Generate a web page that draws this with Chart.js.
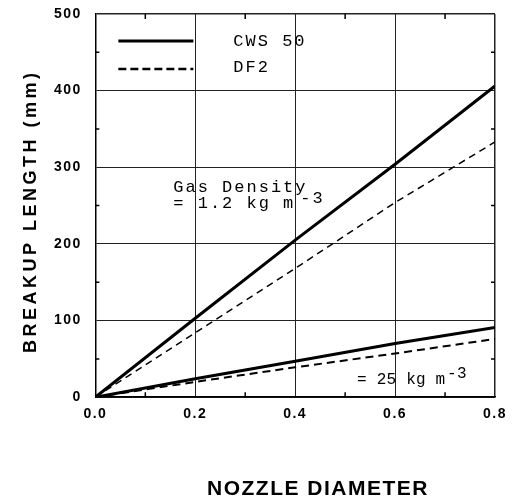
<!DOCTYPE html>
<html>
<head>
<meta charset="utf-8">
<script src="https://cdn.jsdelivr.net/npm/chart.js@4.4.0/dist/chart.umd.min.js"></script>
<style>
	html, body { margin: 0; padding: 0; background: #fff; }
</style>
</head>
<body>
<canvas id="myChart" width="517" height="499"></canvas>
<script>
// nozzle diameter (x) and breakup length in mm (y)
var nozzleDiameter = [0, 0.2, 0.4, 0.6, 0.8];
var cwsLowDensity = [0, 103, 205, 304, 406];   // gas density 1.2 kg m-3
var df2LowDensity = [0, 84, 168, 254, 333];
var cwsHighDensity = [0, 24, 47, 70, 91];      // gas density 25 kg m-3
var df2HighDensity = [0, 20, 39, 57, 76];

var xTicks = [0, 0.2, 0.4, 0.6, 0.8];
var yTicks = [0, 100, 200, 300, 400, 500];
var xMinorTicks = [0.1, 0.3, 0.5, 0.7];
var yMinorTicks = [50, 150, 250, 350, 450];

var legendLabels = ['CWS 50', 'DF2'];
var xTitle = 'NOZZLE DIAMETER';
var yTitle = 'BREAKUP LENGTH (mm)';

function pts(ys) {
	return nozzleDiameter.map(function (x, i) { return { x: x, y: ys[i] } });
}

var mono = '"Liberation Mono", "DejaVu Sans Mono", monospace';
var sans = '"Liberation Sans", Arial, sans-serif';

var decor = {
	id: 'decor',
	beforeDraw: function (chart) {
		var ctx = chart.ctx;
		ctx.save();
		ctx.fillStyle = '#fff';
		ctx.fillRect(0, 0, chart.width, chart.height);
		ctx.restore();
		// spaced out tick labels like the original print
		ctx.letterSpacing = '1.5px';
	},
	afterDraw: function (chart) {
		var ctx = chart.ctx;
		var a = chart.chartArea;
		var xs = chart.scales.x, ys = chart.scales.y;
		ctx.save();
		ctx.letterSpacing = '0px';
		ctx.strokeStyle = '#000';
		ctx.lineWidth = 1.5;

		// minor ticks, inside on all four sides
		xMinorTicks.forEach(function (v) {
			var px = xs.getPixelForValue(v);
			ctx.beginPath();
			ctx.moveTo(px, a.bottom); ctx.lineTo(px, a.bottom - 5);
			ctx.moveTo(px, a.top); ctx.lineTo(px, a.top + 5);
			ctx.stroke();
		});
		yMinorTicks.forEach(function (v) {
			var py = ys.getPixelForValue(v);
			ctx.beginPath();
			ctx.moveTo(a.left, py); ctx.lineTo(a.left + 4, py);
			ctx.moveTo(a.right, py); ctx.lineTo(a.right - 4, py);
			ctx.stroke();
		});

		// legend in the top left corner of the plot
		var lx = a.left + 23, lw = 75, tx = a.left + 138;
		ctx.fillStyle = '#000';
		ctx.font = '17px ' + mono;
		ctx.letterSpacing = '2px';
		ctx.textBaseline = 'alphabetic';
		ctx.textAlign = 'left';

		ctx.lineWidth = 3;
		ctx.beginPath(); ctx.moveTo(lx, a.top + 27); ctx.lineTo(lx + lw, a.top + 27); ctx.stroke();
		ctx.fillText(legendLabels[0], tx, a.top + 32);

		ctx.lineWidth = 2.5;
		ctx.setLineDash([8, 4]);
		ctx.beginPath(); ctx.moveTo(lx, a.top + 55); ctx.lineTo(lx + lw, a.top + 55); ctx.stroke();
		ctx.setLineDash([]);
		ctx.fillText(legendLabels[1], tx, a.top + 58);

		// gas density notes
		var gx = xs.getPixelForValue(0.156);
		var gy = ys.getPixelForValue(268);
		ctx.fillText('Gas Density', gx, gy);
		ctx.fillText('= 1.2 kg m', gx, gy + 16);
		ctx.fillText('-3', gx + 127, gy + 11);

		ctx.font = '16px ' + mono;
		ctx.letterSpacing = '0.2px';
		var hx = xs.getPixelForValue(0.524);
		var hy = ys.getPixelForValue(17);
		ctx.fillText('= 25 kg m', hx, hy);
		ctx.fillText('-3', hx + 90, hy - 6);

		// axis titles
		ctx.font = 'bold 21px ' + sans;
		ctx.letterSpacing = '1.5px';
		ctx.fillText(xTitle, 207, 495);

		ctx.translate(31, 353);
		ctx.rotate(-Math.PI / 2);
		ctx.font = 'bold 18px ' + sans;
		ctx.letterSpacing = '3.5px';
		ctx.textBaseline = 'middle';
		ctx.fillText(yTitle, 0, 0);
		ctx.restore();
	}
};

var ctx = document.getElementById('myChart').getContext('2d');
var myChart = new Chart(ctx, {
	type: 'line',
	data: {
		datasets: [{
			label: 'CWS 50, 1.2 kg m-3',
			data: pts(cwsLowDensity),
			borderColor: '#000',
			borderWidth: 3
		}, {
			label: 'DF2, 1.2 kg m-3',
			data: pts(df2LowDensity),
			borderColor: '#000',
			borderWidth: 1.5,
			borderDash: [7, 5]
		}, {
			label: 'CWS 50, 25 kg m-3',
			data: pts(cwsHighDensity),
			borderColor: '#000',
			borderWidth: 3
		}, {
			label: 'DF2, 25 kg m-3',
			data: pts(df2HighDensity),
			borderColor: '#000',
			borderWidth: 2,
			borderDash: [8, 5]
		}]
	},
	options: {
		responsive: false,
		animation: false,
		elements: { point: { radius: 0 }, line: { tension: 0 } },
		layout: { padding: { left: 45, right: 22, top: 14, bottom: 67 } },
		plugins: { legend: { display: false }, tooltip: { enabled: false } },
		scales: {
			x: {
				type: 'linear',
				min: 0,
				max: 0.8,
				afterBuildTicks: function (s) { s.ticks = xTicks.map(function (v) { return { value: v } }) },
				ticks: {
					color: '#000',
					padding: 9,
					maxRotation: 0,
					font: { family: sans, size: 14, weight: 'bold' },
					callback: function (v) { return v.toFixed(1) }
				},
				grid: {
					color: '#222',
					lineWidth: function (c) { return c.tick && c.tick.value === 0.8 ? 1.5 : 1 },
					drawTicks: false
				},
				border: { color: '#000', width: 1.5 }
			},
			y: {
				min: 0,
				max: 500,
				afterBuildTicks: function (s) { s.ticks = yTicks.map(function (v) { return { value: v } }) },
				// the label padding should not push the plot top down
				afterFit: function (s) { s.paddingTop = 0; s.paddingBottom = 0 },
				ticks: {
					color: '#000',
					padding: 13.5,
					font: { family: sans, size: 14, weight: 'bold' }
				},
				grid: {
					color: '#222',
					lineWidth: function (c) { return c.tick && c.tick.value === 500 ? 1.5 : 1 },
					drawTicks: false
				},
				border: { color: '#000', width: 1.5 }
			}
		}
	},
	plugins: [decor]
});
</script>
</body>
</html>
